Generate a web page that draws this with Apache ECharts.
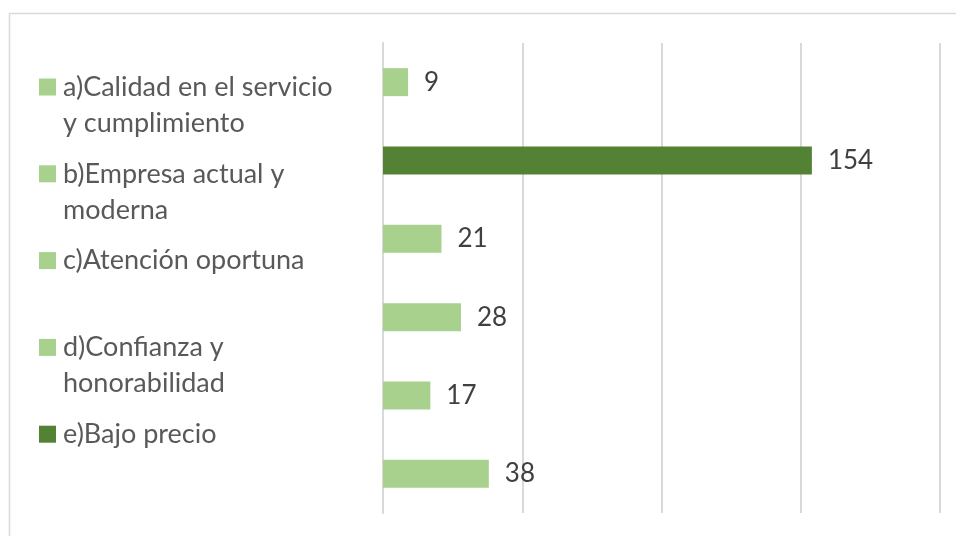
<!DOCTYPE html>
<html>
<head>
<meta charset="utf-8">
<script src="https://cdn.jsdelivr.net/npm/echarts@6/dist/echarts.min.js"></script>
<style>
  html, body { margin: 0; padding: 0; background: #ffffff; }
  #chart { width: 956px; height: 536px; }
</style>
</head>
<body>
<div id="chart"></div>
<script>
// Bars, top to bottom
const categories = ['1', '2', '3', '4', '5', '6'];
const values = [9, 154, 21, 28, 17, 38];
const barColors = ['#A9D18E', '#548235', '#A9D18E', '#A9D18E', '#A9D18E', '#A9D18E'];

// Legend entries
const legendNames = [
  'a)Calidad en el servicio\ny cumplimiento',
  'b)Empresa actual y\nmoderna',
  'c)Atención oportuna',
  'd)Confianza y\nhonorabilidad',
  'e)Bajo precio'
];
const legendColors = ['#A9D18E', '#A9D18E', '#A9D18E', '#A9D18E', '#548235'];

// Value axis ticks
const axisMin = 0;
const axisMax = 200;
const axisStep = 50;

const FONT = 'Lato';
const LINE = 36;          // legend line height
const FIRST_CENTER = 87;  // centre of first legend row
const ROW_STEP = 86.8;    // distance between legend rows

const legends = legendNames.map(function (name, i) {
  const lines = name.split('\n').length;
  const center = FIRST_CENTER + i * ROW_STEP;
  // wrapped entries get an empty leading line so the swatch, which is centred
  // on the text block, sits beside the first line
  const pad = lines - 1;
  const shown = pad > 0 ? '\n'.repeat(pad) + name : name;
  const boxH = (lines + pad) * LINE;
  return {
    data: [name],
    left: 39,
    top: center - boxH / 2,
    orient: 'vertical',
    padding: 0,
    icon: 'rect',
    itemWidth: 17,
    itemHeight: 17,
    selectedMode: false,
    formatter: function () { return shown; },
    textStyle: {
      fontFamily: FONT,
      fontSize: 27,
      color: '#595959',
      lineHeight: LINE,
      padding: [0, 0, 0, 2]
    }
  };
});

const legendSeries = legendNames.map(function (name, i) {
  return {
    name: name,
    type: 'bar',
    stack: 'all',
    data: [],
    itemStyle: { color: legendColors[i] }
  };
});

const chart = echarts.init(document.getElementById('chart'), null, { renderer: 'canvas' });
chart.setOption({
  animation: false,
  backgroundColor: '#ffffff',
  graphic: [{
    type: 'rect',
    shape: { x: 9.5, y: 13.5, width: 1200, height: 800 },
    style: { fill: 'none', stroke: '#d9d9d9', lineWidth: 1.5 },
    silent: true,
    z: -10
  }],
  legend: legends,
  grid: { left: 383, right: 16, top: 43, bottom: 23, containLabel: false },
  xAxis: {
    type: 'value',
    min: axisMin,
    max: axisMax,
    interval: axisStep,
    axisLine: { show: false },
    axisTick: { show: false },
    axisLabel: { show: false },
    splitLine: { show: true, lineStyle: { color: '#d9d9d9', width: 2 } }
  },
  yAxis: {
    type: 'category',
    data: categories,
    inverse: true,
    axisLine: { show: true, lineStyle: { color: '#d9d9d9', width: 2 } },
    axisTick: { show: false },
    axisLabel: { show: false },
    splitLine: { show: false }
  },
  series: [{
    name: 'valores',
    type: 'bar',
    stack: 'all',
    barWidth: 28,
    data: values.map(function (v, i) {
      return { value: v, itemStyle: { color: barColors[i] } };
    }),
    label: {
      show: true,
      position: 'right',
      distance: 16,
      fontFamily: FONT,
      fontSize: 26,
      color: '#404040'
    }
  }].concat(legendSeries)
});
</script>
</body>
</html>
